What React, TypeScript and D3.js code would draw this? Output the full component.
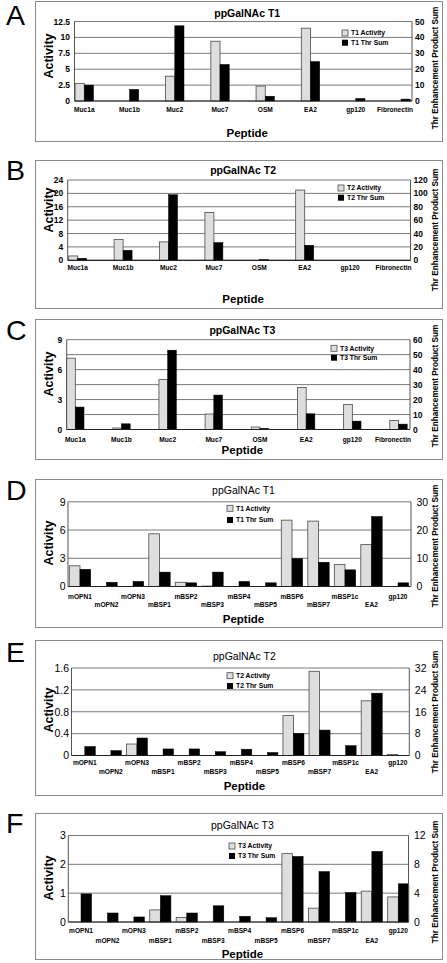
import React from "react";
import * as d3 from "d3";

// ---------- DATA ----------
const catsABC = ["Muc1a", "Muc1b", "Muc2", "Muc7", "OSM", "EA2", "gp120", "Fibronectin"];
const catsDEF = ["mOPN1", "mOPN2", "mOPN3", "mBSP1", "mBSP2", "mBSP3", "mBSP4", "mBSP5", "mBSP6", "mBSP7", "mBSP1c", "EA2", "gp120"];

const aActivity = [2.75, 0, 3.9, 9.4, 2.35, 11.45, 0, 0];
const aThr = [10, 7.3, 47.3, 23, 3, 24.8, 1.6, 1.2];
const bActivity = [1.3, 6.2, 5.5, 14.3, 0, 21, 0, 0];
const bThr = [3, 15, 98, 26.5, 1.2, 22.5, 0, 0];
const cActivity = [7.15, 0.15, 5.0, 1.55, 0.25, 4.2, 2.5, 0.9];
const cThr = [15, 3.8, 53, 23, 0.8, 10.5, 5.6, 3.6];
const dActivity = [2.2, 0, 0, 5.6, 0.45, 0.05, 0, 0, 7.05, 6.95, 2.35, 4.45, 0];
const dThr = [6.1, 1.5, 1.8, 5.1, 1.3, 5.1, 1.8, 1.3, 9.9, 8.6, 5.9, 24.8, 1.3];
const eActivity = [0, 0, 0.21, 0, 0, 0, 0, 0, 0.73, 1.54, 0, 1.0, 0.02];
const eThr = [3.3, 1.8, 6.4, 2.4, 2.4, 1.4, 2.3, 1.1, 8.1, 9.3, 3.6, 22.8, 0];
const fActivity = [0, 0, 0, 0.42, 0.16, 0, 0, 0, 2.37, 0.48, 0, 1.07, 0.87];
const fThr = [3.9, 1.25, 0.7, 3.65, 1.25, 2.25, 0.8, 0.6, 9.1, 7.0, 4.1, 9.8, 5.3];

const aLeftTicks = [0, 2.5, 5, 7.5, 10, 12.5];
const aRightTicks = [0, 10, 20, 30, 40, 50];
const bLeftTicks = [0, 4, 8, 12, 16, 20, 24];
const bRightTicks = [0, 20, 40, 60, 80, 100, 120];
const cLeftTicks = [0, 3, 6, 9];
const cRightTicks = [0, 10, 20, 30, 40, 50, 60];
const dLeftTicks = [0, 3, 6, 9];
const dRightTicks = [0, 10, 20, 30];
const eLeftTicks = ["0", "0.4", "0.8", "1.2", "1.6"];
const eRightTicks = [0, 8, 16, 24, 32];
const fLeftTicks = [0, 1, 2, 3];
const fRightTicks = [0, 4, 8, 12];

const FONT = "'Liberation Sans', Arial, Helvetica, sans-serif";

type Cfg = {
  letter: string; letterY: number;
  box: [number, number, number, number];
  l: number; r: number; t: number; b: number;
  c0: number; c1: number; barW: number;
  cats: string[]; act: number[]; thr: number[];
  leftTicks: (number | string)[]; rightTicks: number[];
  title: string; titleY: number; bold: boolean;
  actName: string; thrName: string;
  labelY: number[]; peptideY: number;
  actY: number; rightTitleY: number;
  legX: number; legY: [number, number];
};

const panels: Cfg[] = [
  {
    letter: "A", letterY: 25, box: [35, 1, 443, 142],
    l: 74.5, r: 412, t: 21.5, b: 101, c0: 84.3, c1: 401, barW: 9.2,
    cats: catsABC, act: aActivity, thr: aThr, leftTicks: aLeftTicks, rightTicks: aRightTicks,
    title: "ppGalNAc T1", titleY: 16.5, bold: true, actName: "T1 Activity", thrName: "T1 Thr Sum",
    labelY: [111.5], peptideY: 136.8, actY: 56, rightTitleY: 68, legX: 342, legY: [33, 42.7],
  },
  {
    letter: "B", letterY: 180, box: [35, 160, 443, 309],
    l: 67.7, r: 410.5, t: 180, b: 260.3, c0: 77.7, c1: 395.5, barW: 9,
    cats: catsABC, act: bActivity, thr: bThr, leftTicks: bLeftTicks, rightTicks: bRightTicks,
    title: "ppGalNAc T2", titleY: 173.7, bold: true, actName: "T2 Activity", thrName: "T2 Thr Sum",
    labelY: [270], peptideY: 303.4, actY: 210, rightTitleY: 230, legX: 338, legY: [188, 197.7],
  },
  {
    letter: "C", letterY: 340, box: [35, 319, 443, 460],
    l: 66.7, r: 410, t: 339.7, b: 429.5, c0: 75.3, c1: 398.5, barW: 8.7,
    cats: catsABC, act: cActivity, thr: cThr, leftTicks: cLeftTicks, rightTicks: cRightTicks,
    title: "ppGalNAc T3", titleY: 333.7, bold: true, actName: "T3 Activity", thrName: "T3 Thr Sum",
    labelY: [441.7], peptideY: 454, actY: 374, rightTitleY: 386, legX: 331, legY: [348.3, 357.7],
  },
  {
    letter: "D", letterY: 500, box: [35, 479, 443, 628],
    l: 68, r: 411, t: 501.8, b: 586.5, c0: 80, c1: 398, barW: 10.7,
    cats: catsDEF, act: dActivity, thr: dThr, leftTicks: dLeftTicks, rightTicks: dRightTicks,
    title: "ppGalNAc T1", titleY: 493.7, bold: false, actName: "T1 Activity", thrName: "T1 Thr Sum",
    labelY: [599, 607.3], peptideY: 622.5, actY: 543, rightTitleY: 546, legX: 227, legY: [508.3, 520],
  },
  {
    letter: "E", letterY: 662, box: [35, 640, 443, 796],
    l: 71.5, r: 409.3, t: 668, b: 755.5, c0: 84.8, c1: 397.8, barW: 10.5,
    cats: catsDEF, act: eActivity, thr: eThr, leftTicks: eLeftTicks, rightTicks: eRightTicks,
    title: "ppGalNAc T2", titleY: 660.4, bold: false, actName: "T2 Activity", thrName: "T2 Thr Sum",
    labelY: [765, 774], peptideY: 790, actY: 710, rightTitleY: 712, legX: 227, legY: [675.7, 686],
  },
  {
    letter: "F", letterY: 833, box: [35, 813, 443, 960],
    l: 68.3, r: 408.5, t: 835.5, b: 922, c0: 81, c1: 398.3, barW: 10.6,
    cats: catsDEF, act: fActivity, thr: fThr, leftTicks: fLeftTicks, rightTicks: fRightTicks,
    title: "ppGalNAc T3", titleY: 828.7, bold: false, actName: "T3 Activity", thrName: "T3 Thr Sum",
    labelY: [933.3, 942.7], peptideY: 957.5, actY: 878, rightTitleY: 882, legX: 229, legY: [846, 856],
  },
];

function Panel({ c }: { c: Cfg }) {
  const leftNums = c.leftTicks.map((v) => +v);
  const leftMax = d3.max(leftNums) as number;
  const rightMax = d3.max(c.rightTicks) as number;
  const yL = d3.scaleLinear().domain([0, leftMax]).range([c.b, c.t]);
  const yR = d3.scaleLinear().domain([0, rightMax]).range([c.b, c.t]);
  const x = d3.scalePoint<string>().domain(c.cats).range([c.c0, c1Fix(c)]);
  const tickFs = c.bold ? 8.5 : 10.5;
  const tickW = c.bold ? 700 : 400;
  const rows = c.labelY.length;
  return (
    <g fontFamily={FONT}>
      <rect x={c.box[0] + 0.5} y={c.box[1] + 0.5} width={c.box[2] - c.box[0] - 1} height={c.box[3] - c.box[1] - 1}
        fill="white" stroke="#8a8a8a" strokeWidth={1} />
      <text x={6} y={c.letterY} fontSize={28.5} fill="#000">{c.letter}</text>
      <text x={(c.l + c.r) / 2 + 4} y={c.titleY} fontSize={10.5} fontWeight={c.bold ? 700 : 400} textAnchor="middle">{c.title}</text>
      {/* gridlines */}
      {c.rightTicks.map((v) => (
        <line key={"g" + v} x1={c.l} x2={c.r} y1={yR(v)} y2={yR(v)} stroke="#7a7a7a" strokeWidth={1} />
      ))}
      {/* bars */}
      {c.cats.map((cat, i) => {
        const cx = x(cat) as number;
        const a = c.act[i];
        const t = c.thr[i];
        return (
          <g key={cat}>
            {a > 0 && (
              <rect x={cx - c.barW} y={yL(a)} width={c.barW} height={c.b - yL(a)}
                fill="#dedede" stroke="#4a4a4a" strokeWidth={0.8} />
            )}
            {t > 0 && (
              <rect x={cx} y={yR(t)} width={c.barW} height={c.b - yR(t)} fill="#000" stroke="#000" strokeWidth={0.5} />
            )}
          </g>
        );
      })}
      {/* axes */}
      <line x1={c.l} x2={c.l} y1={c.t} y2={c.b} stroke="#555" strokeWidth={1} />
      <line x1={c.r} x2={c.r} y1={c.t} y2={c.b} stroke="#555" strokeWidth={1} />
      <line x1={c.l} x2={c.r} y1={c.b} y2={c.b} stroke="#222" strokeWidth={1.2} />
      {c.leftTicks.map((v) => (
        <text key={"l" + v} x={c.l - (c.bold ? 4.5 : 2.5)} y={yL(+v) + tickFs * 0.36} fontSize={tickFs} fontWeight={tickW} textAnchor="end">{String(v)}</text>
      ))}
      {c.rightTicks.map((v) => (
        <text key={"r" + v} x={c.r + (c.bold ? 3 : 5.5)} y={yR(v) + tickFs * 0.36} fontSize={tickFs} fontWeight={tickW} textAnchor="start">{String(v)}</text>
      ))}
      {/* category labels */}
      {c.cats.map((cat, i) => {
        const cx = x(cat) as number;
        const last = rows === 1 && i === c.cats.length - 1;
        return (
          <text key={"c" + cat} x={last ? c.r + 1 : cx} y={c.labelY[i % rows]} fontSize={6.6} fontWeight={700}
            textAnchor={last ? "end" : "middle"}>{cat}</text>
        );
      })}
      <text x={(c.l + c.r) / 2 + 4} y={c.peptideY} fontSize={11.5} fontWeight={700} textAnchor="middle">Peptide</text>
      <text transform={`translate(52.5,${c.actY}) rotate(-90)`} fontSize={12.5} fontWeight={700} textAnchor="middle">Activity</text>
      <text transform={`translate(437.5,${c.rightTitleY}) rotate(-90)`} fontSize={8.2} fontWeight={700} textAnchor="middle">Thr Enhancement Product Sum</text>
      {/* legend */}
      <rect x={c.legX} y={c.legY[0] - 3} width={6} height={6} fill="#dedede" stroke="#4a4a4a" strokeWidth={0.8} />
      <text x={c.legX + 9} y={c.legY[0] + 2.4} fontSize={6.8} fontWeight={700}>{c.actName}</text>
      <rect x={c.legX} y={c.legY[1] - 3} width={6} height={6} fill="#000" />
      <text x={c.legX + 9} y={c.legY[1] + 2.4} fontSize={6.8} fontWeight={700}>{c.thrName}</text>
    </g>
  );
}

function c1Fix(c: Cfg) {
  return c.c1;
}

export default function App() {
  return (
    <svg width={447} height={963} viewBox="0 0 447 963"
      style={{ position: "absolute", left: 0, top: 0, background: "white" }}>
      <rect x={0} y={0} width={447} height={963} fill="white" />
      {panels.map((p) => (
        <Panel key={p.letter} c={p} />
      ))}
    </svg>
  );
}
